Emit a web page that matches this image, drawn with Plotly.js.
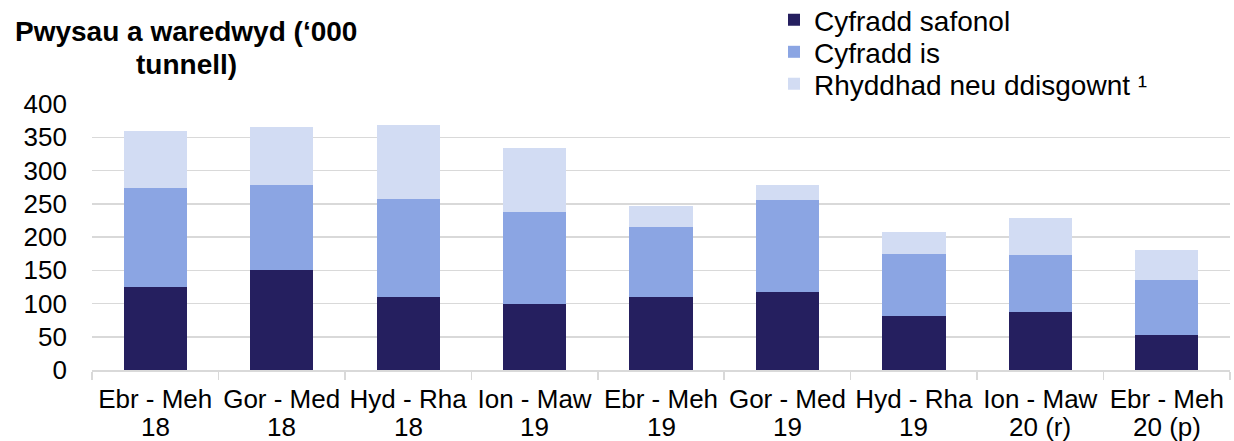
<!DOCTYPE html>
<html>
<head>
<meta charset="utf-8">
<script src="https://cdn.plot.ly/plotly-3.0.1.min.js"></script>
<style>html,body{margin:0;padding:0;background:#fff;}#chart{width:1234px;height:441px;}</style>
</head>
<body>
<div id="chart"></div>
<script>
const periodLabels = ["Ebr - Meh","Gor - Med","Hyd - Rha","Ion - Maw","Ebr - Meh","Gor - Med","Hyd - Rha","Ion - Maw","Ebr - Meh"];
const yearLabels = ["18","18","18","19","19","19","19","20 (r)","20 (p)"];
const standardRate = [125,150,110,100,110,117,81,87,53];
const lowerRate = [148,128,147,137,105,138,94,86,83];
const reliefDiscount = [87,88,111,97,32,23,32,55,45];
const seriesNames = ["Cyfradd safonol","Cyfradd is","Rhyddhad neu ddisgownt ¹"];
const titleLines = ["Pwysau a waredwyd (‘000","tunnell)"];
const yTicks = [0,50,100,150,200,250,300,350,400];

const categories = periodLabels.map((p, i) => p + " " + yearLabels[i]);
const font = "Liberation Sans, Arial, sans-serif";
const colors = ["#251F5F","#8BA5E3","#D2DCF3"];
const W = 1234, H = 441, L = 92, R = 4, T = 104, B = 70.5;
const pw = W - L - R, ph = H - T - B;
const px = x => (x - L) / pw;
const py = y => (H - B - y) / ph;

const vals = [standardRate, lowerRate, reliefDiscount];
const legends = ["legend","legend2","legend3"];
const legendY = [20, 52, 84];
const traces = vals.map((v, i) => ({
  type: "bar", x: categories, y: v, name: seriesNames[i],
  marker: {color: colors[i], line: {width: 0}},
  legend: legends[i], hoverinfo: "y+name"
}));

const legendCfg = i => ({
  x: px(774), y: py(legendY[i]), xanchor: "left", yanchor: "middle",
  bgcolor: "rgba(0,0,0,0)", borderwidth: 0,
  font: {family: font, size: 28, color: "#000"},
  itemwidth: 30, tracegroupgap: 0
});

const layout = {
  width: W, height: H,
  margin: {l: L, r: R, t: T, b: B, pad: 0, autoexpand: false},
  paper_bgcolor: "#fff", plot_bgcolor: "#fff",
  barmode: "stack", bargap: 0.5,
  font: {family: font, size: 26, color: "#000"},
  showlegend: true,
  legend: legendCfg(0), legend2: legendCfg(1), legend3: legendCfg(2),
  xaxis: {
    type: "category", showgrid: false, zeroline: false, automargin: false,
    showline: true, linecolor: "#d9d9d9", linewidth: 1.5,
    ticks: "outside", tickson: "boundaries", ticklen: 8, tickcolor: "#d9d9d9", tickwidth: 1.5,
    tickvals: categories, ticktext: periodLabels,
    ticklabelstandoff: 5,
    tickfont: {family: font, size: 26, color: "#000"}, tickangle: 0
  },
  yaxis: {
    range: [0, 400], tickvals: yTicks, automargin: false,
    showgrid: true, gridcolor: "#d9d9d9", gridwidth: 1.5,
    zeroline: false, showline: false, ticks: "",
    ticklabelstandoff: 24,
    tickfont: {family: font, size: 26, color: "#000"}
  },
  annotations: titleLines.map((t, i) => ({
    text: "<b>" + t + "</b>", xref: "paper", yref: "paper",
    x: px(186), y: py([31, 64][i]), xanchor: "center", yanchor: "middle",
    showarrow: false, align: "center",
    font: {family: font, size: 28, color: "#000"}
  })).concat(categories.map((c, i) => ({
    text: yearLabels[i], xref: "x", yref: "paper",
    x: c, y: py(428), xanchor: "center", yanchor: "middle",
    showarrow: false, font: {family: font, size: 26, color: "#000"}
  })))
};

Plotly.newPlot("chart", traces, layout, {displayModeBar: false, staticPlot: true});
</script>
</body>
</html>
